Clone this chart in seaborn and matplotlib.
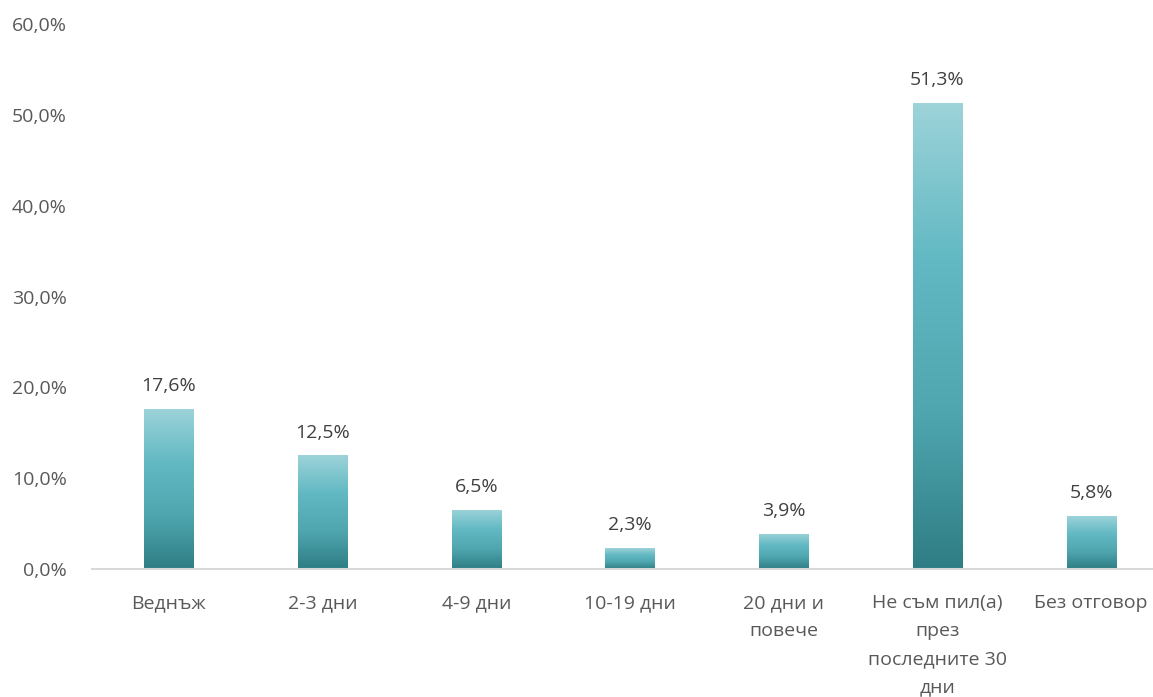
import matplotlib
matplotlib.use("Agg")
import matplotlib.pyplot as plt
import seaborn as sns
import numpy as np
import pandas as pd
from matplotlib.colors import LinearSegmentedColormap

categories = ["Веднъж", "2-3 дни", "4-9 дни", "10-19 дни", "20 дни и\nповече",
              "Не съм пил(а)\nпрез\nпоследните 30\nдни", "Без отговор"]
values = [17.6, 12.5, 6.5, 2.3, 3.9, 51.3, 5.8]
yticks = [0, 10, 20, 30, 40, 50, 60]

sns.set_theme(style="white")
plt.rcParams['font.family'] = ['Open Sans', 'DejaVu Sans']

df = pd.DataFrame({"cat": categories, "val": values})

fig = plt.figure(figsize=(11.53, 6.97), dpi=100)
ax = fig.add_axes([92/1153, 1-569/697, 1-92/1153, (569-24)/697])
sns.barplot(data=df, x="cat", y="val", color="#62B9C3", width=0.32, ax=ax, saturation=1)

cmap = LinearSegmentedColormap.from_list("g", ["#2F7D84", "#4FA6AF", "#62B9C3", "#9DD3D9"])
grad = np.linspace(0, 1, 256).reshape(-1, 1)
for p in ax.patches:
    x0, y0 = p.get_x(), p.get_y()
    w, h = p.get_width(), p.get_height()
    im = ax.imshow(grad, cmap=cmap, origin="lower", aspect="auto",
                   extent=[x0, x0 + w, y0, y0 + h], zorder=p.get_zorder() + 0.1)
    im.set_clip_path(p)
    p.set_edgecolor("none")

fs = 14
ax.set_xlim(-0.5, 6.5 - 15/153.7)
ax.set_ylim(0, 60)
ax.set_yticks(yticks)
ax.set_yticklabels([f"{t:.1f}%".replace(".", ",") for t in yticks], fontsize=fs, color="#595959")
ax.tick_params(axis="x", labelsize=fs, labelcolor="#595959", pad=18, length=0)
ax.tick_params(axis="y", length=0, pad=18)
ax.set_xlabel("")
ax.set_ylabel("")
for s in ["top", "right", "left"]:
    ax.spines[s].set_visible(False)
ax.spines["bottom"].set_color("#D9D9D9")
ax.spines["bottom"].set_linewidth(1.5)

for p, v in zip(ax.patches, values):
    ax.annotate(f"{v:.1f}%".replace(".", ","), (p.get_x() + p.get_width()/2, p.get_height()),
                xytext=(0, 10), textcoords="offset points", ha="center", va="bottom",
                fontsize=fs, color="#404040")

for lbl in ax.get_xticklabels():
    lbl.set_linespacing(1.72)

fig.savefig("out.png", dpi=100)
